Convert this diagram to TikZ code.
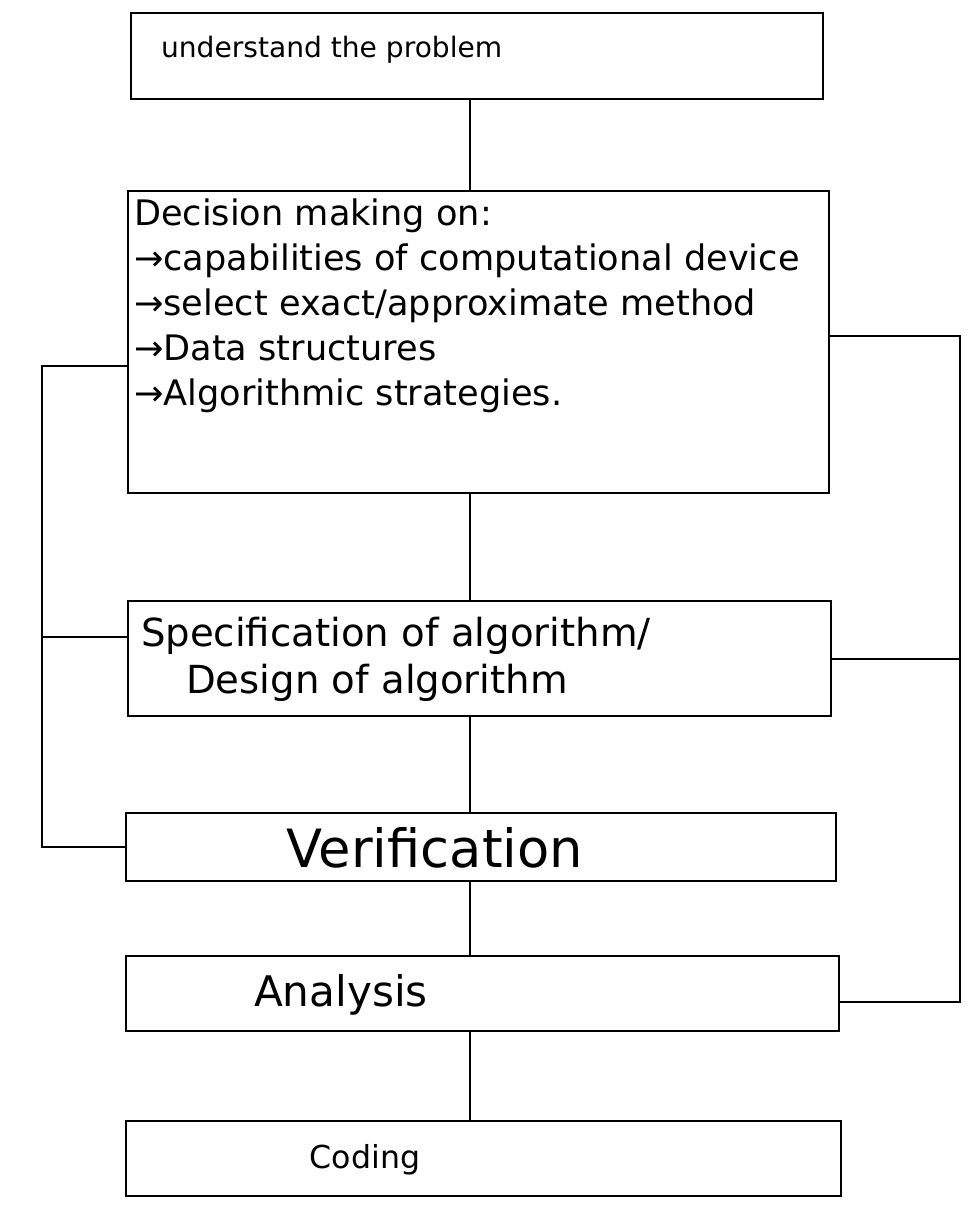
\documentclass[tikz,border=0pt]{standalone}
\usepackage{fontspec}
\setmainfont{DejaVu Sans}
\usetikzlibrary{calc}
\begin{document}
\begin{tikzpicture}[x=0.02cm,y=-0.02cm, line width=1.2pt,
  box/.style={draw, rectangle, inner sep=0pt, anchor=north west},
  lbl/.style={inner sep=0pt, align=left}]
\useasboundingbox (0,0) rectangle (969,1205);
% boxes
\node[box, minimum width=13.84cm, minimum height=1.72cm] (b1) at (130,12) {};
\node[box, minimum width=14.02cm, minimum height=6.04cm] (b2) at (127,190) {};
\node[box, minimum width=14.06cm, minimum height=2.30cm] (b3) at (127,600) {};
\node[box, minimum width=14.20cm, minimum height=1.36cm] (b4) at (125,812) {};
\node[box, minimum width=14.26cm, minimum height=1.50cm] (b5) at (125,955) {};
\node[box, minimum width=14.30cm, minimum height=1.50cm] (b6) at (125,1120) {};
% texts
\node[lbl, anchor=west, font=\fontsize{16}{19}\selectfont] (t1) at (160,50) {understand the problem};
\node[lbl, anchor=north west, font=\fontsize{20}{25.6}\selectfont] (t2) at (133,198)
  {Decision making on:\\ →capabilities of computational device\\ →select exact/approximate method\\ →Data structures\\ →Algorithmic strategies.};
\node[lbl, anchor=west, font=\fontsize{22}{26}\selectfont] (t3a) at (140,636) {Specification of algorithm/};
\node[lbl, anchor=west, font=\fontsize{22}{26}\selectfont] (t3b) at (185,683) {Design of algorithm};
\node[lbl, font=\fontsize{30}{34}\selectfont] (t4) at (435,848) {Verification};
\node[lbl, font=\fontsize{24}{28}\selectfont] (t5) at (341,995) {Analysis};
\node[lbl, font=\fontsize{18}{22}\selectfont] (t6) at (365,1160) {Coding};
% spine
\coordinate (S) at (470,0);
\draw (b1.south -| S) -- (b2.north -| S);
\draw (b2.south -| S) -- (b3.north -| S);
\draw (b3.south -| S) -- (b4.north -| S);
\draw (b4.south -| S) -- (b5.north -| S);
\draw (b5.south -| S) -- (b6.north -| S);
% left loop
\coordinate (L) at (42,0);
\coordinate (l1) at ($(b2.west)+(0,24)$);
\coordinate (l2) at ($(b3.west)+(0,-22)$);
\draw (l1) -- (l1 -| L) -- (L |- b4.west) -- (b4.west);
\draw (l2) -- (l2 -| L);
% right loop
\coordinate (R) at (960,0);
\coordinate (r1) at ($(b2.east)+(0,-6)$);
\coordinate (r3) at ($(b5.east)+(0,8)$);
\draw (r1) -- (r1 -| R) -- (R |- r3) -- (r3);
\draw (b3.east) -- (b3.east -| R);
\end{tikzpicture}
\end{document}
